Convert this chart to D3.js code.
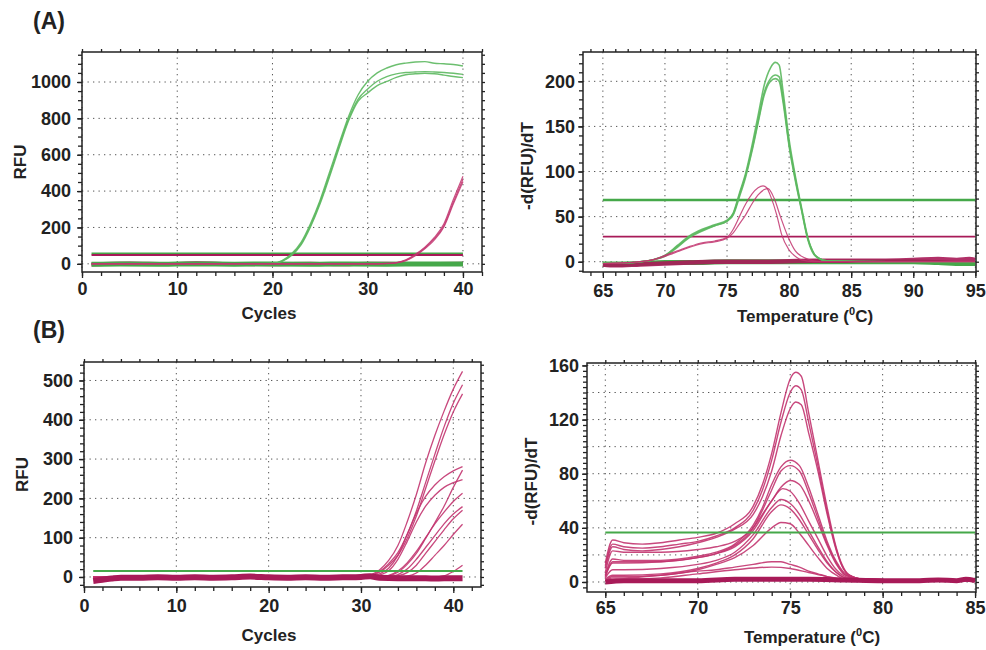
<!DOCTYPE html>
<html lang="en">
<head>
<meta charset="UTF-8">
<title>qPCR amplification and melt curves</title>
<style>
  body { margin: 0; background: #fff; }
  text { font-family: 'Liberation Sans', Arial, Helvetica, sans-serif; }
</style>
</head>
<body>
<svg id="svg" width="986" height="650"></svg>

<script src="https://d3js.org/d3.v7.min.js"></script>
<script>
// ---------- data ----------
// (A) amplification: [cycle, RFU]
const ampA_green = [
  [[1,2],[18,1],[20,3],[21,18],[22,55],[23,118],[24,222],[25,350],[26,505],[27,662],[28,812],[29,930],[30,1004],[31,1050],[32,1077],[33,1095],[34,1104],[35,1110],[36,1112],[37,1103],[38,1100],[39,1096],[40,1088]],
  [[1,1],[18,0],[20,2],[21,15],[22,50],[23,110],[24,212],[25,340],[26,490],[27,648],[28,798],[29,906],[30,962],[31,1004],[32,1030],[33,1045],[34,1052],[35,1055],[36,1057],[37,1055],[38,1052],[39,1048],[40,1042]],
  [[1,0],[18,0],[20,1],[21,13],[22,46],[23,104],[24,204],[25,330],[26,480],[27,638],[28,788],[29,895],[30,940],[31,980],[32,1003],[33,1025],[34,1040],[35,1045],[36,1048],[37,1045],[38,1038],[39,1030],[40,1024]]
]
const ampA_magenta = [
  [[1,0],[31,0],[32,2],[33,7],[34,22],[35,52],[36,92],[37,145],[38,220],[39,355],[40,482]],
  [[1,0],[31,0],[32,2],[33,6],[34,19],[35,48],[36,87],[37,138],[38,210],[39,340],[40,465]],
  [[1,0],[31,0],[32,1],[33,5],[34,17],[35,45],[36,83],[37,132],[38,203],[39,330],[40,452]]
]
const ampA_greenBase = [[1,-3],[4,-1],[8,-2],[12,-1],[16,-2],[20,-1],[24,-2],[28,-1],[32,-2],[36,-1],[40,-1]]
const ampA_magentaBase = [[1,-4],[5,2],[9,-1],[12,3],[16,-1],[20,-2],[24,0],[27,-3],[30,1],[34,-1],[40,0]]
const ampA_thresholds = { green: 57, magenta: 48 }
const ampA_xTicks = [0, 10, 20, 30, 40]
const ampA_yTicks = [0, 200, 400, 600, 800, 1000]

// (A) melt: [temperature, -dRFU/dT]
const meltA_green = [
  [[65,-1],[67,-1],[68,0],[69,2],[70,7],[71,18],[72,29],[73,36],[74,41],[75,46],[75.5,54],[76,76],[76.5,98],[77,128],[77.5,162],[78,196],[78.5,215],[78.9,221],[79.2,218],[79.5,190],[80,135],[80.5,95],[81,60],[81.5,27],[82,9],[82.5,3],[83,1],[88,0],[95,0]],
  [[65,-1],[67,-1],[68,0],[69,2],[70,7],[71,17],[72,28],[73,35],[74,40],[75,45],[75.5,53],[76,74],[76.5,96],[77,124],[77.5,156],[78,188],[78.5,203],[78.9,207],[79.2,205],[79.5,182],[80,130],[80.5,92],[81,58],[81.5,26],[82,9],[82.5,3],[83,1],[88,0],[95,0]],
  [[65,-1],[67,-1],[68,0],[69,2],[70,6],[71,16],[72,27],[73,34],[74,40],[75,45],[75.5,52],[76,72],[76.5,94],[77,122],[77.5,154],[78,185],[78.5,200],[78.9,203],[79.2,200],[79.5,178],[80,128],[80.5,90],[81,57],[81.5,25],[82,8],[82.5,3],[83,1],[88,0],[95,0]]
]
const meltA_magenta = [
  [[65,-2],[67,-1],[68,0],[69,2],[70,7],[71,12],[72,17],[73,21],[74,23],[75,27],[75.5,36],[76,50],[76.5,64],[77,75],[77.5,82],[77.9,84],[78.2,82],[78.5,73],[79,52],[79.4,30],[80,13],[80.6,5],[81,2],[82,0],[95,0]],
  [[65,-2],[67,-1],[68,0],[69,2],[70,6],[71,11],[72,16],[73,20],[74,22],[75,26],[75.5,32],[76,42],[76.5,52],[77,64],[77.5,74],[78,80],[78.3,81],[78.8,70],[79.3,50],[79.9,28],[80.5,12],[81.3,4],[82,1],[83,0],[95,0]]
]
const meltA_greenBase = [[65,-3],[66,-3],[68,-2],[70,-1],[72,-1],[75,0],[80,0],[85,0],[88,0],[90,0],[92,-1],[94,-2],[95,-2]]
const meltA_magentaBase = [[65,-3],[66,-4],[68,-3],[70,-2],[72,-1],[74,0],[78,0],[82,1],[86,1],[90,2],[92,3],[93.5,2],[94.5,3],[95,2]]
const meltA_thresholds = { green: 68.5, magenta: 27.8 }
const meltA_xTicks = [65, 70, 75, 80, 85, 90, 95]
const meltA_yTicks = [0, 50, 100, 150, 200]

// (B) amplification: [cycle, RFU]
const ampB_magenta = [
  [[1,0],[30,0],[31,5],[32,18],[33,42],[34,80],[35,140],[36,210],[37,290],[38,360],[39,422],[40,478],[41,523]],
  [[1,0],[30,0],[31,4],[32,14],[33,34],[34,62],[35,108],[36,168],[37,240],[38,312],[39,382],[40,442],[41,489]],
  [[1,0],[30,0],[31,3],[32,12],[33,30],[34,55],[35,98],[36,155],[37,225],[38,295],[39,362],[40,420],[41,466]],
  [[1,0],[31,0],[32,8],[33,22],[34,55],[35,108],[36,162],[37,205],[38,234],[39,255],[40,270],[41,281]],
  [[1,0],[31,0],[32,5],[33,16],[34,45],[35,90],[36,140],[37,180],[38,208],[39,228],[40,240],[41,248]],
  [[1,0],[32,0],[33,3],[34,12],[35,32],[36,60],[37,98],[38,138],[39,180],[40,228],[41,272]],
  [[1,0],[32,0],[33,4],[34,15],[35,36],[36,65],[37,100],[38,135],[39,165],[40,192],[41,213]],
  [[1,0],[33,0],[34,6],[35,20],[36,45],[37,75],[38,105],[39,135],[40,160],[41,179]],
  [[1,0],[33,0],[34,3],[35,11],[36,30],[37,60],[38,90],[39,120],[40,148],[41,170]],
  [[1,0],[34,0],[35,2],[36,10],[37,30],[38,55],[39,80],[40,108],[41,134]],
  [[1,0],[38,0],[39,3],[40,14],[41,30]]
]
const ampB_magentaBase = [[1,-10],[2,-7],[3,-4],[4,-2],[6,-2],[8,-1],[10,-2],[12,-1],[14,-2],[16,-1],[18,1],[20,-1],[22,-2],[24,-1],[26,-2],[28,-1],[30,0],[31,2],[32,-2],[34,-3],[36,-3],[38,-4],[40,-3],[41,-3]]
const ampB_threshold = 15
const ampB_xTicks = [0, 10, 20, 30, 40]
const ampB_yTicks = [0, 100, 200, 300, 400, 500]

// (B) melt: [temperature, -dRFU/dT]
const meltB_magenta = [
  [[65,14],[65.4,31],[66,29],[67,28],[68,29],[69,31],[70,33],[71,36],[72,43],[73,56],[73.5,72],[74,95],[74.5,125],[75,150],[75.3,155],[75.6,152],[76,125],[76.5,90],[77,55],[77.5,25],[77.8,13],[78.2,5],[79,2],[85,1]],
  [[65,12],[65.4,28],[66,26],[67,25],[68,26],[69,28],[70,30],[71,34],[72,40],[73,53],[73.5,68],[74,90],[74.5,118],[75,140],[75.3,145],[75.6,142],[76,118],[76.5,86],[77,52],[77.5,24],[77.8,12],[78.2,5],[79,2],[85,1]],
  [[65,10],[65.4,26],[66,24],[67,23],[68,24],[69,26],[70,29],[71,33],[72,39],[73,50],[73.5,63],[74,82],[74.5,108],[75,128],[75.3,133],[75.6,131],[76,110],[76.5,82],[77,50],[77.5,23],[77.8,12],[78.2,5],[79,2],[85,1]],
  [[65,5],[65.4,17],[66,16],[68,16],[70,19],[71,22],[72,28],[73,42],[73.5,55],[74,72],[74.5,85],[75,90],[75.5,86],[76,70],[76.5,50],[77,30],[77.5,15],[78,6],[79,2],[85,1]],
  [[65,4],[65.4,15],[66,15],[68,15],[70,18],[71,21],[72,27],[73,40],[73.5,53],[74,68],[74.5,82],[75,86],[75.5,82],[76,66],[76.5,47],[77,28],[77.5,14],[78,5],[79,2],[85,1]],
  [[65,7],[65.4,23],[66,22],[68,22],[70,24],[71,26],[72,30],[73,40],[73.5,50],[74,60],[74.5,70],[75,75],[75.5,72],[76,60],[76.5,44],[77,27],[77.5,13],[78,5],[79,2],[85,1]],
  [[65,4],[65.4,14],[66,14],[68,15],[70,18],[71,21],[72,26],[73,38],[74,60],[74.6,69],[75,67],[75.5,58],[76,45],[76.5,32],[77,19],[77.5,9],[78,4],[79,2],[85,1]],
  [[65,3],[65.4,9],[66,9],[68,10],[70,13],[71,16],[72,22],[73,35],[74,55],[74.5,61],[75,58],[75.5,50],[76,38],[76.5,26],[77,15],[77.5,7],[78,3],[79,2],[85,1]],
  [[65,2],[65.4,5],[66,5],[68,6],[70,10],[71,14],[72,20],[73,32],[74,52],[74.5,57],[75,54],[75.5,46],[76,35],[76.5,24],[77,14],[77.5,7],[78,3],[79,2],[85,1]],
  [[65,1],[65.4,4],[66,4],[68,5],[70,9],[71,13],[72,18],[73,27],[74,40],[74.5,44],[75,43],[75.5,36],[76,27],[76.5,18],[77,10],[77.5,5],[78,2],[85,1]],
  [[65,1],[65.4,3],[66,3],[68,5],[70,8],[71,9],[72,11],[73,13],[74,15],[74.5,15],[75,13],[75.5,11],[76,8],[76.5,6],[77,4],[77.5,2.5],[78,2],[85,1]],
  [[65,1],[65.4,2],[66,2],[68,3],[70,6],[72,9],[74,11],[75,10],[76,7],[77,4],[78,2],[85,1]]
]
const meltB_magentaBase = [[65,0],[66,1],[68,1],[70,1],[72,2],[74,2],[76,2],[78,1.5],[80,1],[82,1],[83,1.5],[84,1],[84.5,2],[85,1]]
const meltB_threshold = 36.5
const meltB_xTicks = [65, 70, 75, 80, 85]
const meltB_yTicks = [0, 40, 80, 120, 160]
const meltB_yGrid = [0, 20, 40, 60, 80, 100, 120, 140, 160]

// ---------- styles ----------
const GREEN = '#5cb85f'
const GREEN_DARK = '#45a849'
const PINK = '#c2346f'
const MAGENTA = '#a81a58'

const svg = d3.select('#svg')
svg.append('rect').attr('width', 986).attr('height', 650).attr('fill', '#fff')

function drawPanel(p) {
  const x = d3.scaleLinear().domain(p.xDomain).range([p.left, p.right])
  const y = d3.scaleLinear().domain(p.yDomain).range([p.bottom, p.top])
  const g = svg.append('g')

  // dotted grid
  g.selectAll(null).data(p.xTicks).enter().append('line')
    .attr('x1', d => x(d)).attr('x2', d => x(d))
    .attr('y1', p.top).attr('y2', p.bottom)
    .attr('stroke', '#555').attr('stroke-width', 1).attr('stroke-dasharray', '1.3,4.2')
  g.selectAll(null).data(p.yGrid || p.yTicks).enter().append('line')
    .attr('x1', p.left).attr('x2', p.right)
    .attr('y1', d => y(d)).attr('y2', d => y(d))
    .attr('stroke', '#555').attr('stroke-width', 1).attr('stroke-dasharray', '1.3,4.2')

  const line = d3.line().x(d => x(d[0])).y(d => y(d[1])).curve(d3.curveMonotoneX)

  // curves, in drawing order
  p.layers.forEach(l => {
    if (l.threshold !== undefined) {
      g.append('line')
        .attr('x1', x(l.from)).attr('x2', x(l.to))
        .attr('y1', y(l.threshold)).attr('y2', y(l.threshold))
        .attr('stroke', l.color).attr('stroke-width', l.width)
      return
    }
    g.selectAll(null).data(l.data).enter().append('path')
      .attr('d', line)
      .attr('fill', 'none')
      .attr('stroke', l.color)
      .attr('stroke-width', l.width)
      .attr('stroke-opacity', l.opacity || 1)
      .attr('stroke-linejoin', 'round')
  })

  // frame
  g.append('rect')
    .attr('x', p.left).attr('y', p.top)
    .attr('width', p.right - p.left).attr('height', p.bottom - p.top)
    .attr('fill', 'none').attr('stroke', '#222').attr('stroke-width', 1.5)

  const minor = (dom, step) => d3.range(Math.ceil(dom[0] / step) * step, dom[1] + 1e-9, step)
  const xMinor = minor(p.xDomain, p.xStep)
  const yMinor = minor(p.yDomain, p.yStep)

  const axes = [
    [d3.axisBottom(x).tickValues(xMinor).tickSize(4).tickFormat(''), `translate(0,${p.bottom})`],
    [d3.axisBottom(x).tickValues(p.xTicks).tickSize(6).tickPadding(p.xPad).tickFormat(d3.format('d')), `translate(0,${p.bottom})`],
    [d3.axisLeft(y).tickValues(yMinor).tickSize(4).tickFormat(''), `translate(${p.left},0)`],
    [d3.axisLeft(y).tickValues(p.yTicks).tickSize(5).tickPadding(p.yPad).tickFormat(d3.format('d')), `translate(${p.left},0)`],
    [d3.axisTop(x).tickValues(xMinor).tickSize(3).tickFormat(''), `translate(0,${p.top})`],
    [d3.axisRight(y).tickValues(yMinor).tickSize(3).tickFormat(''), `translate(${p.right},0)`]
  ]
  axes.forEach(([ax, tr]) => {
    const a = g.append('g').attr('transform', tr).call(ax.tickSizeOuter(0))
    a.select('.domain').remove()
    a.selectAll('line').attr('stroke', '#222').attr('stroke-width', 1.3)
    a.selectAll('text')
      .attr('fill', '#222')
      .style('font-family', "'Liberation Sans', Arial, sans-serif")
      .style('font-size', '18px')
      .style('font-weight', 'bold')
  })

  // axis titles
  g.append('text')
    .attr('transform', `translate(${p.yTitleX},${(p.top + p.bottom) / 2 + p.yTitleDy}) rotate(-90)`)
    .attr('text-anchor', 'middle')
    .style('font-size', '17px').style('font-weight', 'bold').attr('fill', '#222')
    .text(p.yTitle)

  const xt = g.append('text')
    .attr('x', p.xTitleX).attr('y', p.xTitleY)
    .attr('text-anchor', 'middle')
    .style('font-size', '17px').style('font-weight', 'bold').attr('fill', '#222')
  if (p.xTitle === 'Cycles') {
    xt.text('Cycles')
  } else {
    xt.append('tspan').text('Temperature (')
    xt.append('tspan').attr('dy', -7).style('font-size', '11px').text('0')
    xt.append('tspan').attr('dy', 7).text('C)')
  }
}

drawPanel({
  left: 82, right: 482, top: 52, bottom: 272,
  xDomain: [0, 42], yDomain: [-45, 1165],
  xTicks: ampA_xTicks, yTicks: ampA_yTicks, xStep: 2, yStep: 50,
  xPad: 4, yPad: 6,
  yTitle: 'RFU', yTitleX: 26, yTitleDy: 0,
  xTitle: 'Cycles', xTitleX: 269, xTitleY: 319,
  layers: [
    { data: [ampA_magentaBase], color: MAGENTA, width: 4 },
    { data: [ampA_greenBase], color: GREEN_DARK, width: 5 },
    { threshold: ampA_thresholds.green, from: 1, to: 40, color: GREEN_DARK, width: 2 },
    { threshold: ampA_thresholds.magenta, from: 1, to: 40, color: MAGENTA, width: 2 },
    { data: ampA_green, color: GREEN, width: 1.4, opacity: 0.9 },
    { data: ampA_magenta, color: PINK, width: 1.2, opacity: 0.85 }
  ]
})

drawPanel({
  left: 583, right: 976, top: 52, bottom: 272,
  xDomain: [63.4, 95.05], yDomain: [-11.4, 232.5],
  xTicks: meltA_xTicks, yTicks: meltA_yTicks, xStep: 1, yStep: 10,
  xPad: 6, yPad: 3,
  yTitle: '-d(RFU)/dT', yTitleX: 533, yTitleDy: 4,
  xTitle: 'Temp', xTitleX: 805, xTitleY: 322,
  layers: [
    { data: [meltA_greenBase], color: GREEN_DARK, width: 5 },
    { data: [meltA_magentaBase], color: MAGENTA, width: 4.5, opacity: 0.9 },
    { threshold: meltA_thresholds.green, from: 65, to: 95, color: GREEN_DARK, width: 2.6 },
    { threshold: meltA_thresholds.magenta, from: 65, to: 95, color: MAGENTA, width: 1.8 },
    { data: meltA_green, color: GREEN, width: 1.6, opacity: 0.9 },
    { data: meltA_magenta, color: PINK, width: 1.2, opacity: 0.85 }
  ]
})

drawPanel({
  left: 84, right: 481, top: 362, bottom: 587,
  xDomain: [0, 43], yDomain: [-25.5, 547],
  xTicks: ampB_xTicks, yTicks: ampB_yTicks, xStep: 2, yStep: 20,
  xPad: 6, yPad: 6,
  yTitle: 'RFU', yTitleX: 28, yTitleDy: 0,
  xTitle: 'Cycles', xTitleX: 269, xTitleY: 641,
  layers: [
    { data: ampB_magenta, color: PINK, width: 1.3, opacity: 0.9 },
    { threshold: ampB_threshold, from: 1, to: 41, color: GREEN_DARK, width: 2 },
    { data: [ampB_magentaBase], color: MAGENTA, width: 6 }
  ]
})

drawPanel({
  left: 587, right: 976, top: 363, bottom: 592,
  xDomain: [64.01, 85.05], yDomain: [-7.4, 161.8],
  xTicks: meltB_xTicks, yTicks: meltB_yTicks, yGrid: meltB_yGrid, xStep: 1, yStep: 4,
  xPad: 3, yPad: 3,
  yTitle: '-d(RFU)/dT', yTitleX: 537, yTitleDy: 4,
  xTitle: 'Temp', xTitleX: 812, xTitleY: 643,
  layers: [
    { data: meltB_magenta, color: PINK, width: 1.4, opacity: 0.9 },
    { data: [meltB_magentaBase], color: MAGENTA, width: 5 },
    { threshold: meltB_threshold, from: 65, to: 85, color: GREEN_DARK, width: 2 }
  ]
})

// panel letters
svg.append('text').attr('x', 33).attr('y', 29)
  .style('font-size', '23px').style('font-weight', 'bold').attr('fill', '#222').text('(A)')
svg.append('text').attr('x', 33).attr('y', 338)
  .style('font-size', '23px').style('font-weight', 'bold').attr('fill', '#222').text('(B)')
</script>
</body>
</html>
